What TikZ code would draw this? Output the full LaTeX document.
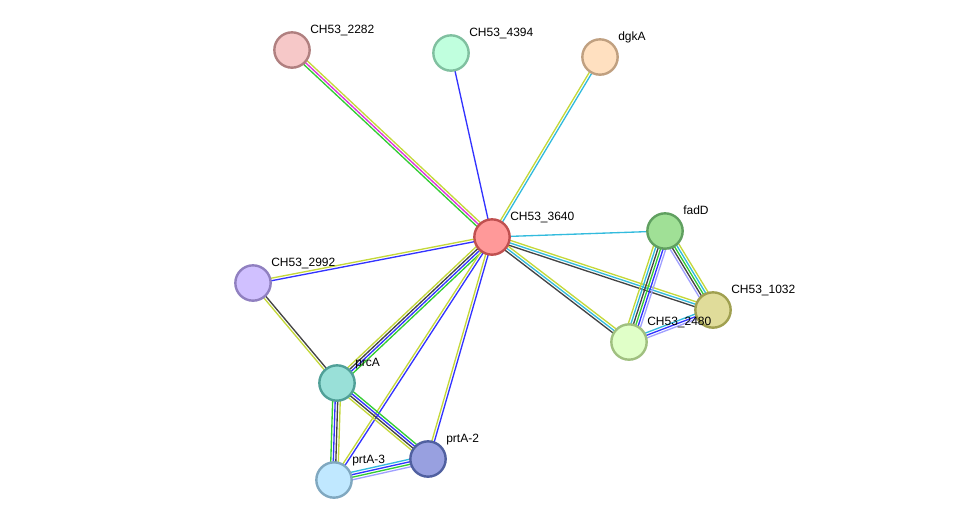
\documentclass[tikz,border=0pt]{standalone}
\usepackage{fontspec}
\setsansfont{Liberation Sans}
\usetikzlibrary{calc, backgrounds}

% evidence colours
\definecolor{evNeigh}{RGB}{51,204,51}
\definecolor{evExp}{RGB}{221,51,221}
\definecolor{evText}{RGB}{196,216,58}
\definecolor{evCooc}{RGB}{51,51,255}
\definecolor{evData}{RGB}{51,187,221}
\definecolor{evCoex}{RGB}{68,68,68}
\definecolor{evHomol}{RGB}{160,160,255}

% node colours, fill and rim
\definecolor{f3640}{RGB}{255,153,153}   \definecolor{r3640}{RGB}{192,80,80}
\definecolor{f2282}{RGB}{246,200,200}   \definecolor{r2282}{RGB}{176,128,128}
\definecolor{f4394}{RGB}{192,255,222}   \definecolor{r4394}{RGB}{128,192,160}
\definecolor{fdgkA}{RGB}{255,224,192}   \definecolor{rdgkA}{RGB}{192,160,128}
\definecolor{ffadD}{RGB}{160,224,150}   \definecolor{rfadD}{RGB}{96,160,96}
\definecolor{f1032}{RGB}{224,220,154}   \definecolor{r1032}{RGB}{160,160,80}
\definecolor{f2480}{RGB}{224,255,200}   \definecolor{r2480}{RGB}{160,192,128}
\definecolor{f2992}{RGB}{208,192,255}   \definecolor{r2992}{RGB}{144,128,192}
\definecolor{fprcA}{RGB}{153,224,216}   \definecolor{rprcA}{RGB}{80,160,152}
\definecolor{fprtAtwo}{RGB}{152,160,224} \definecolor{rprtAtwo}{RGB}{80,96,160}
\definecolor{fprtAthree}{RGB}{192,232,255} \definecolor{rprtAthree}{RGB}{128,168,192}

\tikzset{
    prot/.style 2 args = {circle, minimum size = 26.5pt, inner sep = 0pt, line width = 1.8pt, fill = #1, draw = #2},
    protlabel/.style = {anchor = base west, inner sep = 0pt, font = \sffamily\fontsize{9}{10}\selectfont},
    evline/.style = {line width = 1pt}
}

% #1, #2: end nodes, #3: number of lines, #4: colours
\newcommand{\evEdge}[4]{%
    \foreach \col [count = \i] in {#4} {
        \pgfmathsetmacro{\off}{(\i - (#3 + 1)/2)*1.9}
        \draw[evline, \col] ($(#1)!\off pt!90:(#2)$) -- ($(#2)!\off pt!-90:(#1)$);
    }%
}

\begin{document}
\begin{tikzpicture}[x = 0.75pt, y = -0.75pt]
                    \useasboundingbox (0, 0) rectangle (975, 526);

                    \node[prot = {f3640}{r3640}] (p3640) at (492, 237) {};
                    \node[prot = {f2282}{r2282}] (p2282) at (292, 50) {};
                    \node[prot = {f4394}{r4394}] (p4394) at (451, 53) {};
                    \node[prot = {fdgkA}{rdgkA}] (pdgkA) at (600, 57) {};
                    \node[prot = {ffadD}{rfadD}] (pfadD) at (665, 231) {};
                    \node[prot = {f1032}{r1032}] (p1032) at (713, 310) {};
                    \node[prot = {f2480}{r2480}] (p2480) at (629, 342) {};
                    \node[prot = {f2992}{r2992}] (p2992) at (253, 283) {};
                    \node[prot = {fprcA}{rprcA}] (pprcA) at (337, 383) {};
                    \node[prot = {fprtAtwo}{rprtAtwo}] (pprtA2) at (428, 459) {};
                    \node[prot = {fprtAthree}{rprtAthree}] (pprtA3) at (334, 480) {};

                    \node[protlabel] (l3640) at ($(p3640) + (18, -17)$) {CH53\_3640};
                    \node[protlabel] (l2282) at ($(p2282) + (18, -17)$) {CH53\_2282};
                    \node[protlabel] (l4394) at ($(p4394) + (18, -17)$) {CH53\_4394};
                    \node[protlabel] (ldgkA) at ($(pdgkA) + (18, -17)$) {dgkA};
                    \node[protlabel] (lfadD) at ($(pfadD) + (18, -17)$) {fadD};
                    \node[protlabel] (l1032) at ($(p1032) + (18, -17)$) {CH53\_1032};
                    \node[protlabel] (l2480) at ($(p2480) + (18, -17)$) {CH53\_2480};
                    \node[protlabel] (l2992) at ($(p2992) + (18, -17)$) {CH53\_2992};
                    \node[protlabel] (lprcA) at ($(pprcA) + (18, -17)$) {prcA};
                    \node[protlabel] (lprtA2) at ($(pprtA2) + (18, -17)$) {prtA-2};
                    \node[protlabel] (lprtA3) at ($(pprtA3) + (18, -17)$) {prtA-3};

                    \begin{pgfonlayer}{background}
                        \evEdge{p3640}{p2282}{3}{evText, evExp, evNeigh}
                        \evEdge{p3640}{p4394}{1}{evCooc}
                        \evEdge{p3640}{pdgkA}{2}{evData, evText}
                        \evEdge{p3640}{pfadD}{1}{evData}
                        \evEdge{p3640}{p1032}{3}{evCoex, evData, evText}
                        \evEdge{p3640}{p2480}{3}{evCoex, evData, evText}
                        \evEdge{p3640}{p2992}{2}{evText, evCooc}
                        \evEdge{p3640}{pprcA}{4}{evText, evCoex, evCooc, evNeigh}
                        \evEdge{p3640}{pprtA3}{2}{evText, evCooc}
                        \evEdge{p3640}{pprtA2}{2}{evText, evCooc}
                        \evEdge{p2992}{pprcA}{2}{evText, evCoex}
                        \evEdge{pprcA}{pprtA2}{4}{evText, evCoex, evCooc, evNeigh}
                        \evEdge{pprcA}{pprtA3}{4}{evNeigh, evCooc, evCoex, evText}
                        \evEdge{pprtA3}{pprtA2}{4}{evHomol, evNeigh, evCooc, evData}
                        \evEdge{pfadD}{p2480}{6}{evText, evData, evCoex, evNeigh, evCooc, evHomol}
                        \evEdge{pfadD}{p1032}{5}{evHomol, evCoex, evNeigh, evData, evText}
                        \evEdge{p2480}{p1032}{3}{evHomol, evCooc, evData}
                    \end{pgfonlayer}
                \end{tikzpicture}
\end{document}
